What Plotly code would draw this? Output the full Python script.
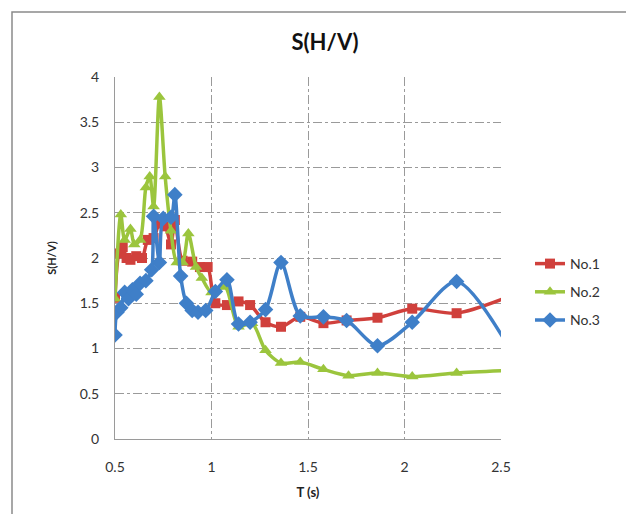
import plotly.graph_objects as go

# ---- data ----
x1 = [0.50, 0.52, 0.54, 0.56, 0.58, 0.61, 0.64, 0.67, 0.70, 0.73, 0.76, 0.79, 0.81, 0.85, 0.90, 0.94, 0.98,
      1.02, 1.08, 1.14, 1.20, 1.28, 1.36, 1.46, 1.58, 1.70, 1.86, 2.04, 2.27, 2.55]
y1 = [1.56, 2.05, 2.12, 2.00, 1.98, 2.02, 2.00, 2.20, 2.22, 2.38, 2.35, 2.15, 2.42, 1.97, 1.96, 1.90, 1.90,
      1.50, 1.48, 1.52, 1.48, 1.29, 1.24, 1.35, 1.28, 1.31, 1.34, 1.44, 1.39, 1.58]

x2 = [0.50, 0.53, 0.55, 0.58, 0.60, 0.63, 0.66, 0.68, 0.70, 0.73, 0.76, 0.79, 0.82, 0.85, 0.88, 0.92, 0.95,
      1.00, 1.07, 1.14, 1.21, 1.28, 1.36, 1.46, 1.58, 1.71, 1.86, 2.04, 2.27, 2.55]
y2 = [1.55, 2.48, 2.20, 2.32, 2.15, 2.20, 2.78, 2.90, 2.57, 3.78, 2.90, 2.30, 1.95, 1.95, 2.27, 1.90, 1.78,
      1.62, 1.68, 1.24, 1.28, 0.98, 0.84, 0.85, 0.77, 0.70, 0.73, 0.69, 0.73, 0.76]

x3 = [0.50, 0.51, 0.53, 0.55, 0.57, 0.59, 0.61, 0.63, 0.66, 0.69, 0.70, 0.73, 0.75, 0.79, 0.81, 0.84, 0.87,
      0.90, 0.93, 0.97, 1.02, 1.08, 1.14, 1.20, 1.28, 1.36, 1.46, 1.58, 1.70, 1.86, 2.04, 2.27, 2.55]
y3 = [1.15, 1.40, 1.45, 1.62, 1.55, 1.65, 1.60, 1.72, 1.75, 1.87, 2.46, 1.95, 2.44, 2.45, 2.70, 1.80, 1.50,
      1.42, 1.40, 1.42, 1.63, 1.76, 1.27, 1.29, 1.43, 1.95, 1.36, 1.35, 1.31, 1.03, 1.29, 1.74, 0.98]

x_ticks = [0.5, 1, 1.5, 2, 2.5]
x_ticklabels = ["0.5", "1", "1.5", "2", "2.5"]
y_ticks = [0, 0.5, 1, 1.5, 2, 2.5, 3, 3.5, 4]
y_ticklabels = ["0", "0.5", "1", "1.5", "2", "2.5", "3", "3.5", "4"]

names = ["No.1", "No.2", "No.3"]
colors = ["#D0403C", "#9BC53D", "#3F7FC8"]
symbols = ["square", "triangle-up", "diamond"]
sizes = [10, 11, 12]

FONT = "Lato, 'Open Sans', sans-serif"

# page body has an 8px margin: figure spans 8..634 horizontally
W, H = 626, 506
L, R, T, B = 107, 133, 69, 75
PW, PH = W - L - R, H - T - B

fig = go.Figure()
for xs, ys, nm, c, s, sz in zip([x1, x2, x3], [y1, y2, y3], names, colors, symbols, sizes):
    fig.add_trace(go.Scatter(
        x=xs, y=ys, name=nm, mode="lines+markers", legendgroup=nm,
        line=dict(color=c, width=3.5, shape="spline", smoothing=0.8),
        marker=dict(symbol=s, size=sz, color=c),
    ))

fig.update_layout(
    width=W, height=H,
    margin=dict(l=L, r=R, t=T, b=B),
    paper_bgcolor="white", plot_bgcolor="white",
    font=dict(family=FONT, color="#333333", size=14),
    title=dict(text="<b>S(H/V)</b>", x=(325 - 8) / W, xanchor="center", y=1 - (42 - 8) / H, yanchor="middle",
               font=dict(size=22, color="#111111", family=FONT)),
    showlegend=True,
    legend=dict(x=(530 - 115) / PW, xanchor="left", y=1 - (292 - 77) / PH, yanchor="middle",
                font=dict(size=14, color="#333333", family=FONT), tracegroupgap=7,
                bgcolor="rgba(0,0,0,0)"),
    xaxis=dict(range=[0.5, 2.5], tickvals=x_ticks, ticktext=x_ticklabels,
               showgrid=True, gridcolor="#9a9a9a", griddash="dashdot", gridwidth=1,
               showline=True, linecolor="#9a9a9a", linewidth=1, zeroline=False,
               ticks="outside", ticklen=15, tickcolor="rgba(0,0,0,0)",
               title=dict(text="<b>T (s)</b>", font=dict(size=13, color="#222222"), standoff=14),
               tickfont=dict(size=14, color="#333333")),
    yaxis=dict(range=[0, 4], tickvals=y_ticks, ticktext=y_ticklabels,
               showgrid=True, gridcolor="#9a9a9a", griddash="dashdot", gridwidth=1,
               showline=True, linecolor="#9a9a9a", linewidth=1, zeroline=False,
               ticks="outside", ticklen=12, tickcolor="rgba(0,0,0,0)",
               title=dict(text="<b>S(H/V)</b>", font=dict(size=11, color="#222222"), standoff=20),
               tickfont=dict(size=14, color="#333333")),
)

# outer chart frame
fig.add_shape(type="rect", xref="paper", yref="paper",
              x0=(12 - 115) / PW, x1=(631 - 115) / PW,
              y0=-0.3, y1=1 + (77 - 12) / PH,
              line=dict(color="#8a8a8a", width=1.5), fillcolor="rgba(0,0,0,0)", layer="below")

fig.write_html("out.html")
